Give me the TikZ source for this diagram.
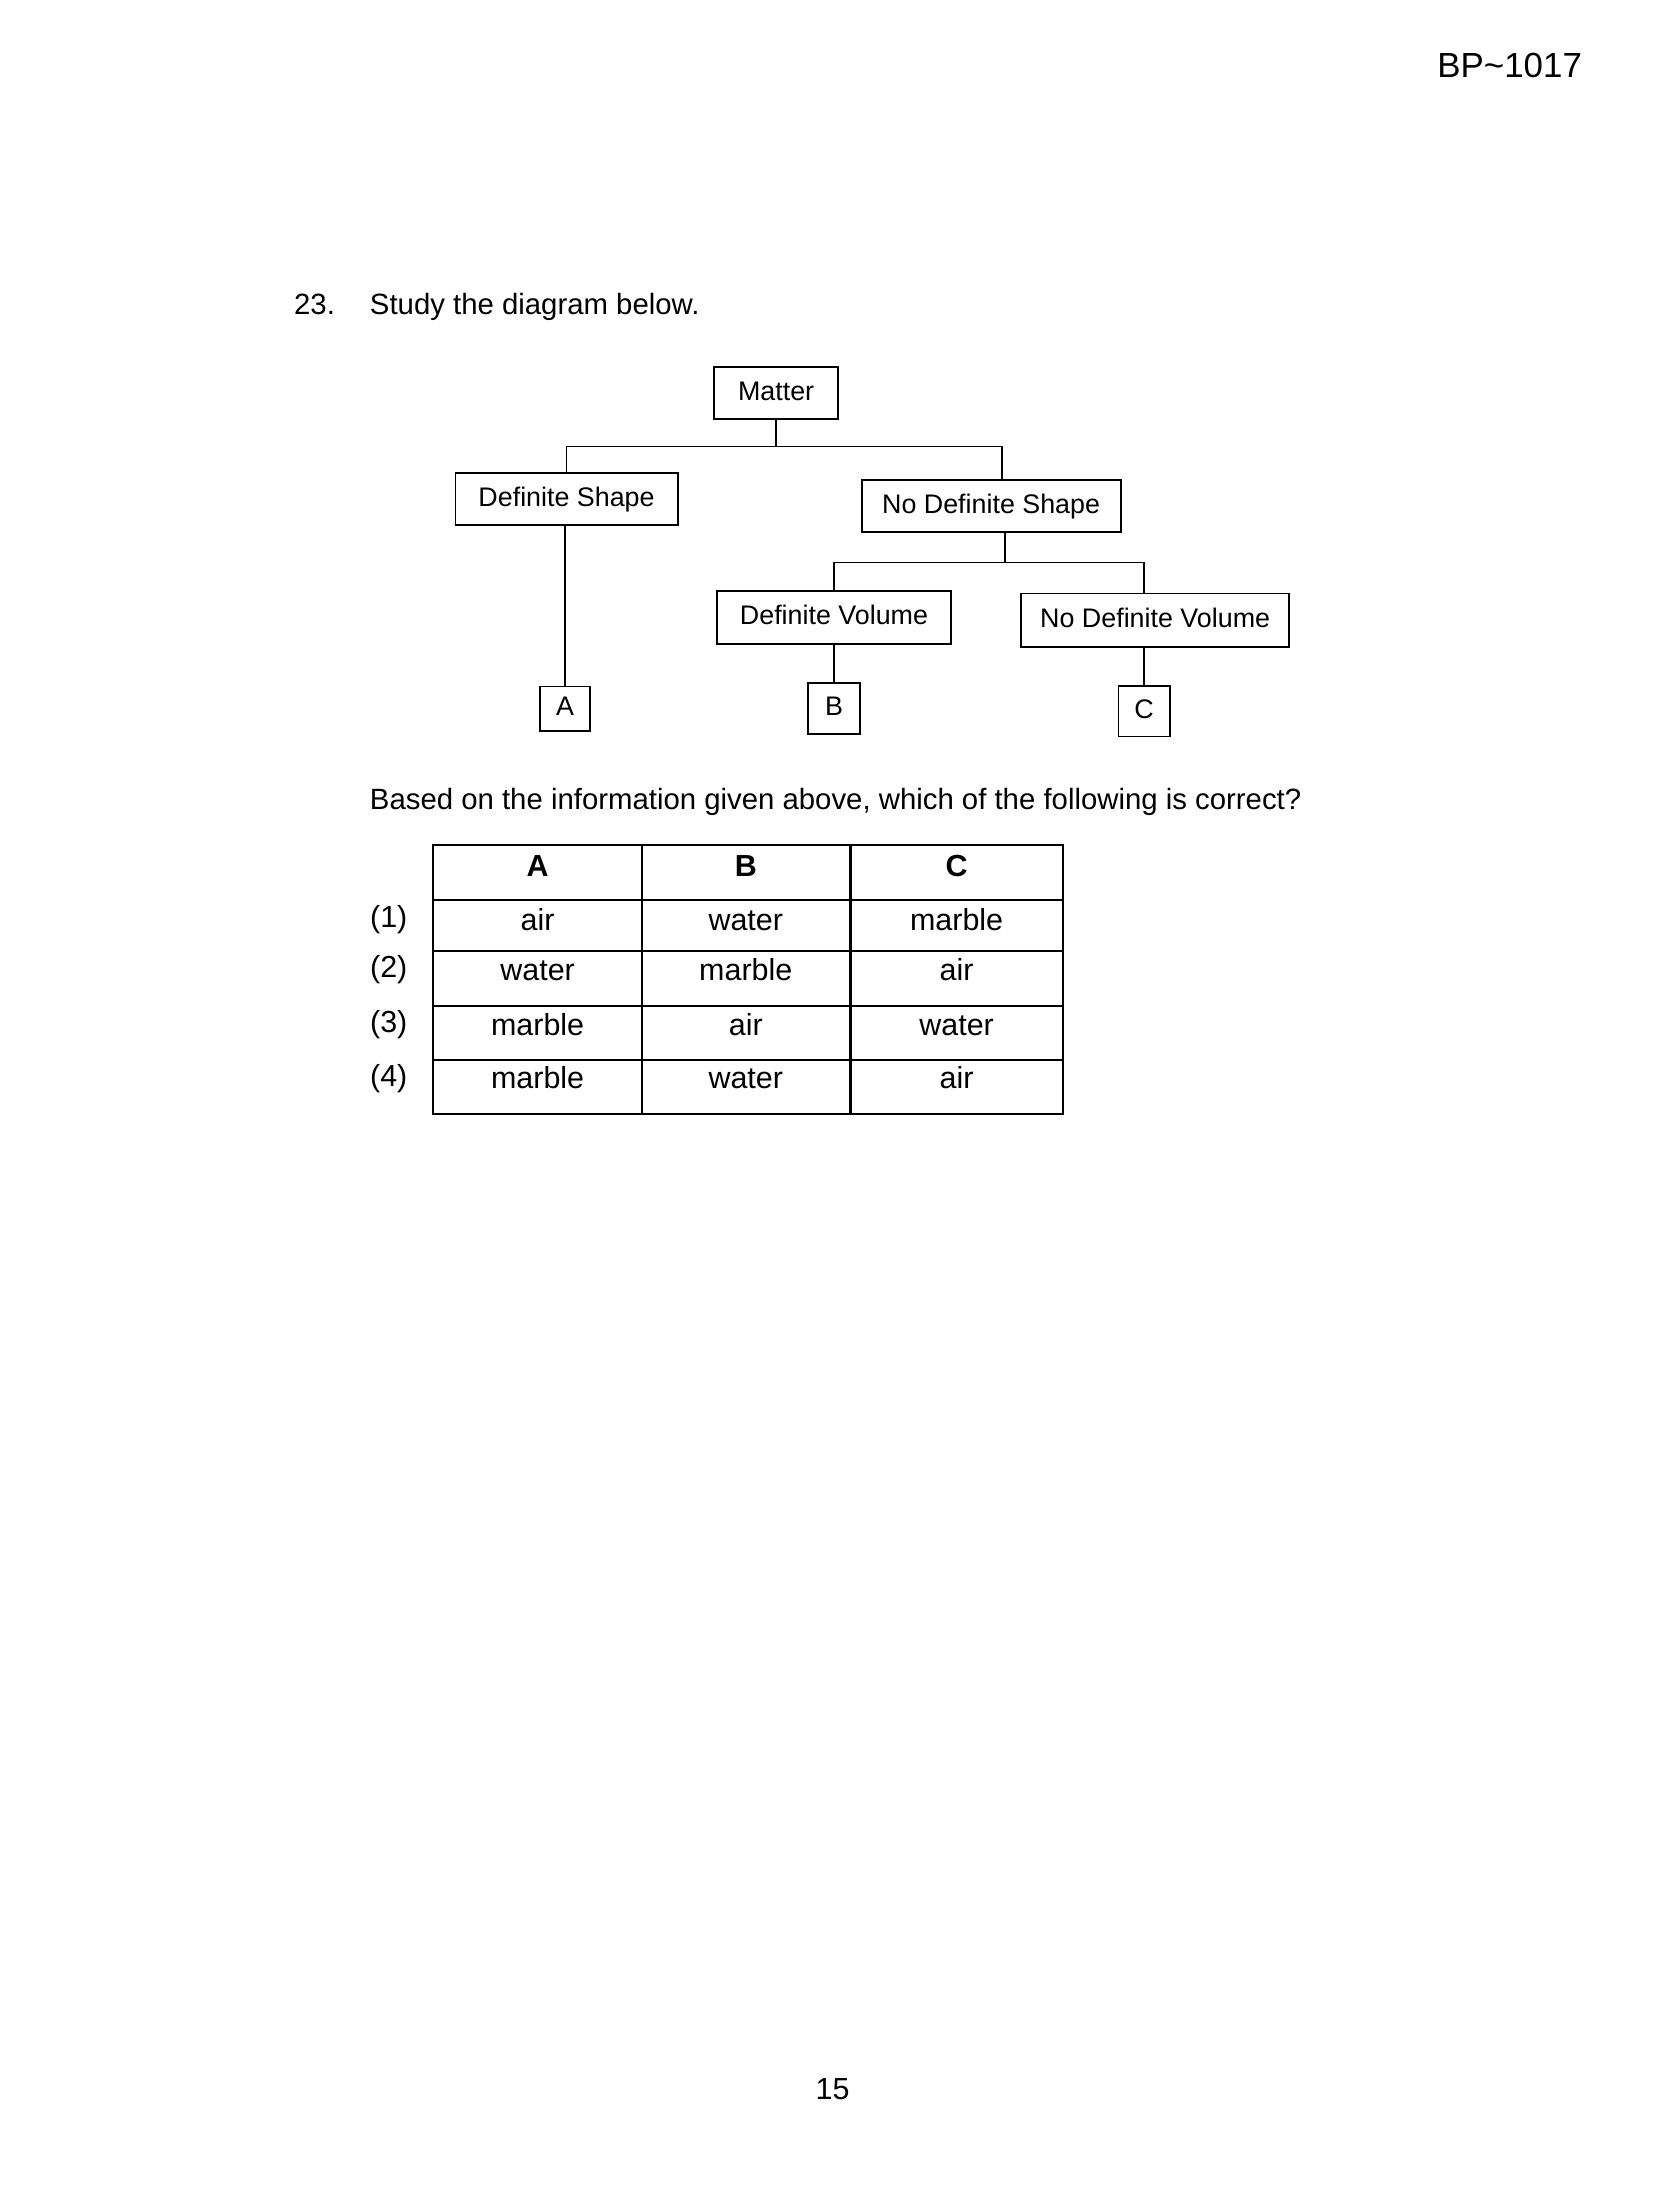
\documentclass[tikz,border=0pt]{standalone}
\usepackage{fontspec}
\setmainfont{Liberation Sans}
\usepackage{tikz}
\usetikzlibrary{positioning, calc}
\tikzstyle{category} = [rectangle, draw=black, line width=0.7pt, minimum height=0.665cm, inner sep=2pt, text centered, text height=0.72em, text depth=0.2em, font=\fontsize{9.7}{11}\selectfont]
\tikzstyle{letterbox} = [category, minimum width=0.65cm, minimum height=0.64cm]
\tikzstyle{branch} = [line width=0.6pt]
\tikzstyle{grid line} = [line width=0.8pt]
\tikzstyle{cell} = [anchor=base, inner sep=0pt, font=\fontsize{11}{13}\selectfont]
\tikzstyle{prose} = [anchor=base west, inner sep=0pt, font=\fontsize{10.6}{12.5}\selectfont]

\begin{document}
\begin{tikzpicture}[x=0.0175cm, y=-0.0175cm]
    \useasboundingbox (0,0) rectangle (1200,1596);

    % Page header
    \node[anchor=base east, inner sep=0pt, font=\fontsize{12.6}{15}\selectfont] (code) at (1148,56) {BP\textasciitilde1017};

    % Question
    \node[prose] (qnum) at (213,228) {23.};
    \node[prose] (qtext) at (268,228) {Study the diagram below.};

    % Matter tree
    \node[category, minimum width=1.575cm] (matter) at (563,285) {Matter};
    \node[category, minimum width=2.82cm, minimum height=0.65cm] (defshape) at (411,362) {Definite Shape};
    \node[category, minimum width=3.29cm] (nodefshape) at (719,367) {No Definite Shape};
    \node[category, minimum width=2.975cm] (defvol) at (605,448) {Definite Volume};
    \node[category, minimum width=3.41cm, minimum height=0.68cm] (nodefvol) at (838,450) {No Definite Volume};
    \node[letterbox, minimum width=0.63cm, minimum height=0.56cm] (letA) at (410,514) {A};
    \node[letterbox] (letB) at (605,514) {B};
    \node[letterbox] (letC) at (830,516) {C};

    % Branches
    \coordinate (split1) at (563,324);
    \coordinate (split2) at (729,408);
    \draw[branch] (matter.south) -- (split1);
    \draw[branch] (defshape.north) |- (split1) -| ($(nodefshape.north)+(8,0)$);
    \draw[branch] ($(nodefshape.south)+(10,0)$) -- (split2);
    \draw[branch] (defvol.north) |- (split2) -| ($(nodefvol.north)+(-8,0)$);
    \draw[branch] (letA.north |- defshape.south) -- (letA.north);
    \draw[branch] (letB.north |- defvol.south) -- (letB.north);
    \draw[branch] (letC.north |- nodefvol.south) -- (letC.north);

    % Answer table
    \node[prose] (ask) at (268,587) {Based on the information given above, which of the following is correct?};
    \draw[grid line] (314,613) rectangle (771,808);
    \foreach \y in {653,690,730,769}
        \draw[grid line] (314,\y) -- (771,\y);
    \foreach \x in {466,617}
        \draw[grid line] (\x,613) -- (\x,808);

    \node[cell] (headA) at (390,636) {\bfseries A};
    \node[cell] (headB) at (541,636) {\bfseries B};
    \node[cell] (headC) at (694,636) {\bfseries C};
    \foreach \base/\num/\ta/\tb/\tc in {675/1/air/water/marble, 711/2/water/marble/air, 751/3/marble/air/water, 790/4/marble/water/air} {
        \node[cell] (opt\num) at (282,\base-2) {(\num)};
        \node[cell] (cellA\num) at (390,\base) {\ta};
        \node[cell] (cellB\num) at (541,\base) {\tb};
        \node[cell] (cellC\num) at (694,\base) {\tc};
    }

    % Page number
    \node[cell] (pagenum) at (604,1523) {15};
\end{tikzpicture}
\end{document}
